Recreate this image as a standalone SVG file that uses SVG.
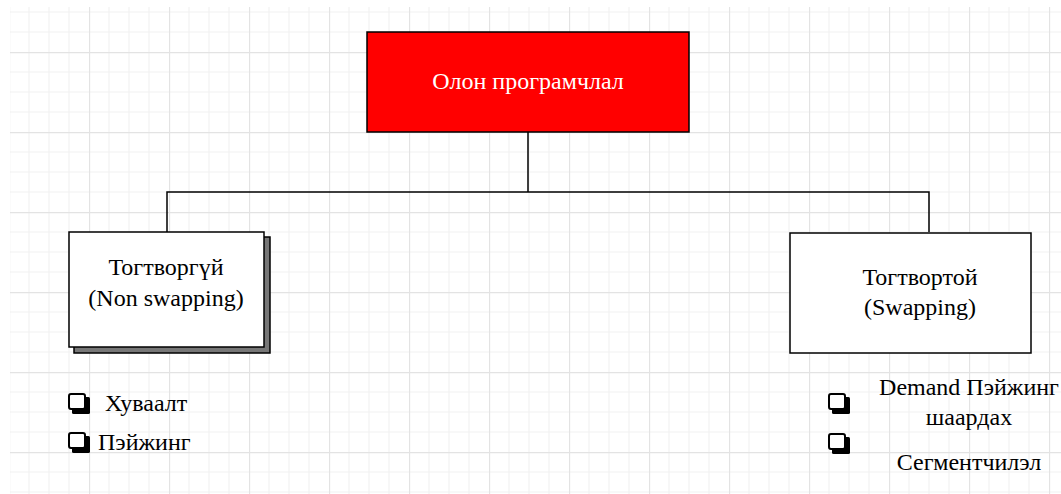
<svg xmlns="http://www.w3.org/2000/svg" width="1061" height="494" viewBox="0 0 1061 494">
<style>
text{font-family:'Liberation Serif','Times New Roman','DejaVu Serif',serif;font-size:24px;fill:#000;}
.box{fill:#fff;stroke:#000;stroke-width:1.5;}
.conn{fill:none;stroke:#000;stroke-width:1.5;}
.chk{fill:#fff;stroke:#000;stroke-width:2;}
</style>
<defs>
<pattern id="grid" patternUnits="userSpaceOnUse" x="9" y="-28" width="80" height="80">
<path d="M20 0V80M40 0V80M60 0V80M0 20H80M0 40H80M0 60H80" stroke="#f2f2f2" stroke-width="1.2" fill="none"/>
<path d="M0.5 0V80M0 0.5H80" stroke="#e3e3e3" stroke-width="1.3" fill="none"/>
</pattern>
<g id="check">
<rect x="4" y="4" width="18" height="17" rx="1.5" fill="#000"/>
<rect x="1" y="1" width="16" height="15" rx="2" class="chk"/>
</g>
</defs>
<rect width="1061" height="494" fill="#fff"/>
<rect x="10" y="7" width="1051" height="487" fill="url(#grid)"/>

<g id="connectors">
<path class="conn" d="M528 132V192M167 232V192H929V232"/>
</g>

<g id="root">
<rect x="367" y="32" width="322" height="100" fill="#ff0000" stroke="#000" stroke-width="1.5"/>
<text x="528" y="89" text-anchor="middle" font-family="Liberation Serif, serif" style="fill:#fff">Олон програмчлал</text>
</g>

<g id="non-swapping">
<rect x="74" y="237" width="196" height="116" fill="#777" stroke="#000" stroke-width="1.5"/>
<rect x="69" y="232" width="195" height="115" class="box"/>
<text x="166" y="275" text-anchor="middle" font-family="Liberation Serif, serif">Тогтворгүй</text>
<text x="166" y="306" text-anchor="middle" font-family="Liberation Serif, serif">(Non swapping)</text>
</g>

<g id="swapping">
<rect x="790" y="233" width="241" height="120" class="box"/>
<text x="920" y="285" text-anchor="middle" font-family="Liberation Serif, serif">Тогтвортой</text>
<text x="920" y="315" text-anchor="middle" font-family="Liberation Serif, serif">(Swapping)</text>
</g>

<g id="left-list">
<use href="#check" x="68" y="393"/>
<text x="105" y="411" font-family="Liberation Serif, serif">Хуваалт</text>
<use href="#check" x="68" y="432"/>
<text x="98" y="450" font-family="Liberation Serif, serif">Пэйжинг</text>
</g>

<g id="right-list">
<use href="#check" x="828" y="393"/>
<use href="#check" x="828" y="433"/>
<text x="969" y="395" text-anchor="middle" font-family="Liberation Serif, serif">Demand Пэйжинг</text>
<text x="969" y="425" text-anchor="middle" font-family="Liberation Serif, serif">шаардах</text>
<text x="969" y="470" text-anchor="middle" font-family="Liberation Serif, serif">Сегментчилэл</text>
</g>
</svg>
